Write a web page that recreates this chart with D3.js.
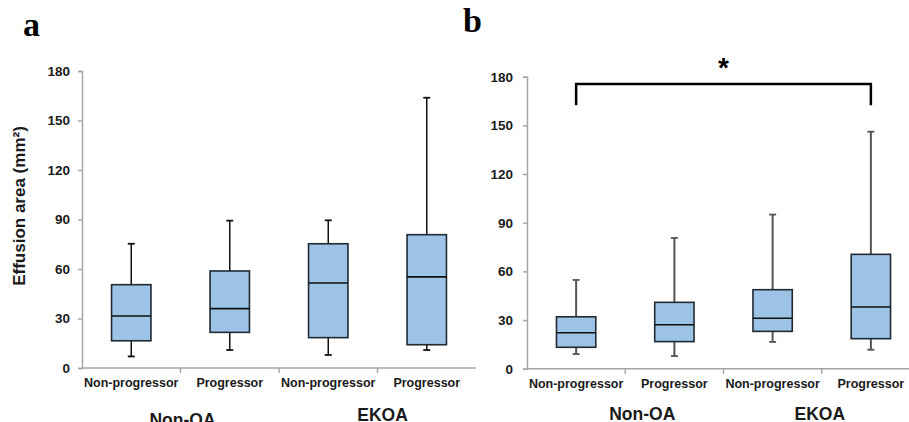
<!DOCTYPE html>
<html><head><meta charset="utf-8">
<script src="https://cdn.jsdelivr.net/npm/d3@7"></script>
<style>html,body{margin:0;padding:0;background:#fff;}svg{display:block;}</style>
</head><body>
<svg id="chart" width="909" height="422"></svg>
<script>
// ---- data ----
const categories = ["Non-progressor", "Progressor", "Non-progressor", "Progressor"];
const groups = ["Non-OA", "EKOA"];
const yTicks = [0, 30, 60, 90, 120, 150, 180];

const aMin    = [7.0, 10.9, 7.9, 10.9];
const aQ1     = [16.5, 21.6, 18.4, 14.1];
const aMedian = [31.5, 36.0, 51.5, 55.2];
const aQ3     = [50.5, 58.8, 75.3, 80.8];
const aMax    = [75.3, 89.3, 89.5, 163.8];

const bMin    = [9.0, 7.8, 16.5, 11.7];
const bQ1     = [13.2, 16.7, 23.0, 18.5];
const bMedian = [22.2, 27.1, 31.1, 38.0];
const bQ3     = [32.0, 40.9, 48.7, 70.5];
const bMax    = [54.7, 80.6, 95.0, 146.1];

const sigFrom = 0, sigTo = 3, sigTop = 175.5, sigLeg = 162.4, sigLabel = "*";

// ---- drawing ----
const svg = d3.select("#chart");
const FONT = "'Liberation Sans', Arial, sans-serif";
const SERIF = "'Liberation Serif', 'Times New Roman', serif";

function panel(cfg) {
  const g = svg.append("g");
  const x = d3.scaleBand().domain(d3.range(categories.length)).range([cfg.x0, cfg.x1]);
  const y = d3.scaleLinear().domain([0, 180]).range([cfg.yBottom, cfg.yTop]);
  const bw = x.bandwidth() * 0.4;

  // y axis
  const yAxis = g.append("g").attr("transform", `translate(${cfg.x0},0)`)
    .call(d3.axisLeft(y).tickValues(yTicks).tickSize(4).tickPadding(cfg.tickPad));
  yAxis.select(".domain").attr("stroke", "#a6a6a6").attr("stroke-width", 1.5);
  yAxis.selectAll(".tick line").attr("stroke", "#a6a6a6").attr("stroke-width", 1.5);
  yAxis.selectAll(".tick text").attr("font-family", FONT).attr("font-weight", "bold")
    .attr("font-size", cfg.tickFont).attr("fill", "#1a1a1a");

  // x axis line and boundary ticks
  g.append("line").attr("x1", cfg.x0).attr("x2", cfg.x1).attr("y1", y(0)).attr("y2", y(0))
    .attr("stroke", "#a6a6a6").attr("stroke-width", 1.5);
  d3.range(1, categories.length).forEach(i => {
    const bx = x(i);
    g.append("line").attr("x1", bx).attr("x2", bx).attr("y1", y(0)).attr("y2", y(0) + 5)
      .attr("stroke", "#a6a6a6").attr("stroke-width", 1.5);
  });

  // category labels
  g.selectAll("text.cat").data(categories).join("text").attr("class", "cat")
    .attr("x", (d, i) => x(i) + x.bandwidth() / 2).attr("y", cfg.catY)
    .attr("text-anchor", "middle").attr("font-family", FONT).attr("font-weight", "bold")
    .attr("font-size", 12.5).attr("fill", "#1a1a1a").text(d => d);

  // group labels
  groups.forEach((gname, gi) => {
    g.append("text").attr("x", x(gi * 2 + 1) + cfg.groupOff[gi]).attr("y", cfg.groupY[gi])
      .attr("text-anchor", "middle").attr("font-family", FONT).attr("font-weight", "bold")
      .attr("font-size", 17.5).attr("fill", "#1a1a1a").text(gname);
  });

  // boxes
  const d = d3.range(categories.length).map(i => ({
    i, min: cfg.mn[i], q1: cfg.q1[i], med: cfg.md[i], q3: cfg.q3[i], max: cfg.mx[i]
  }));
  const bg = g.selectAll("g.box").data(d).join("g").attr("class", "box")
    .attr("transform", v => `translate(${x(v.i) + x.bandwidth() / 2},0)`);
  bg.append("line").attr("x1", 0).attr("x2", 0).attr("y1", v => y(v.q3)).attr("y2", v => y(v.max))
    .attr("stroke", cfg.whisk).attr("stroke-width", cfg.whiskW);
  bg.append("line").attr("x1", 0).attr("x2", 0).attr("y1", v => y(v.q1)).attr("y2", v => y(v.min))
    .attr("stroke", cfg.whisk).attr("stroke-width", cfg.whiskW);
  bg.append("line").attr("x1", -3.5).attr("x2", 3.5).attr("y1", v => y(v.max)).attr("y2", v => y(v.max))
    .attr("stroke", cfg.whisk).attr("stroke-width", 1.8);
  bg.append("line").attr("x1", -3.5).attr("x2", 3.5).attr("y1", v => y(v.min)).attr("y2", v => y(v.min))
    .attr("stroke", cfg.whisk).attr("stroke-width", 1.8);
  bg.append("rect").attr("x", -bw / 2).attr("width", bw)
    .attr("y", v => y(v.q3)).attr("height", v => y(v.q1) - y(v.q3))
    .attr("fill", "#9dc3e6").attr("stroke", "#1f2a33").attr("stroke-width", 1.6);
  bg.append("line").attr("x1", -bw / 2).attr("x2", bw / 2).attr("y1", v => y(v.med)).attr("y2", v => y(v.med))
    .attr("stroke", "#111").attr("stroke-width", 1.6);

  // panel letter
  g.append("text").attr("x", cfg.letterX).attr("y", cfg.letterY).attr("font-family", SERIF)
    .attr("font-weight", "bold").attr("font-size", 34).attr("fill", "#000").text(cfg.letter);

  // y label
  if (cfg.yLabel) {
    g.append("text").attr("transform", `translate(25,206) rotate(-90)`)
      .attr("text-anchor", "middle").attr("font-family", FONT).attr("font-weight", "bold")
      .attr("font-size", 17).attr("fill", "#1a1a1a").text(cfg.yLabel);
  }

  // significance bracket
  if (cfg.sig) {
    const xa = x(sigFrom) + x.bandwidth() / 2, xb = x(sigTo) + x.bandwidth() / 2;
    g.append("path")
      .attr("d", `M${xa},${y(sigLeg)}V${y(sigTop)}H${xb}V${y(sigLeg)}`)
      .attr("fill", "none").attr("stroke", "#000").attr("stroke-width", 2.5);
    g.append("text").attr("x", (xa + xb) / 2).attr("y", y(sigTop) - 7)
      .attr("text-anchor", "middle").attr("font-family", FONT).attr("font-weight", "bold")
      .attr("font-size", 28).attr("fill", "#000").text(sigLabel);
  }
}

panel({
  x0: 82, x1: 476, yBottom: 368, yTop: 71, tickPad: 8, tickFont: 13.5,
  catY: 387, groupY: [426, 421], groupOff: [2, 5],
  mn: aMin, q1: aQ1, md: aMedian, q3: aQ3, mx: aMax,
  whisk: "#111", whiskW: 1.5,
  letter: "a", letterX: 23, letterY: 36, yLabel: "Effusion area (mm²)", sig: false
});
panel({
  x0: 527, x1: 920, yBottom: 368.7, yTop: 76.7, tickPad: 10, tickFont: 13.5,
  catY: 388, groupY: [420, 420], groupOff: [17, -2],
  mn: bMin, q1: bQ1, md: bMedian, q3: bQ3, mx: bMax,
  whisk: "#555", whiskW: 2,
  letter: "b", letterX: 463, letterY: 32, yLabel: null, sig: true
});
</script>
</body></html>
